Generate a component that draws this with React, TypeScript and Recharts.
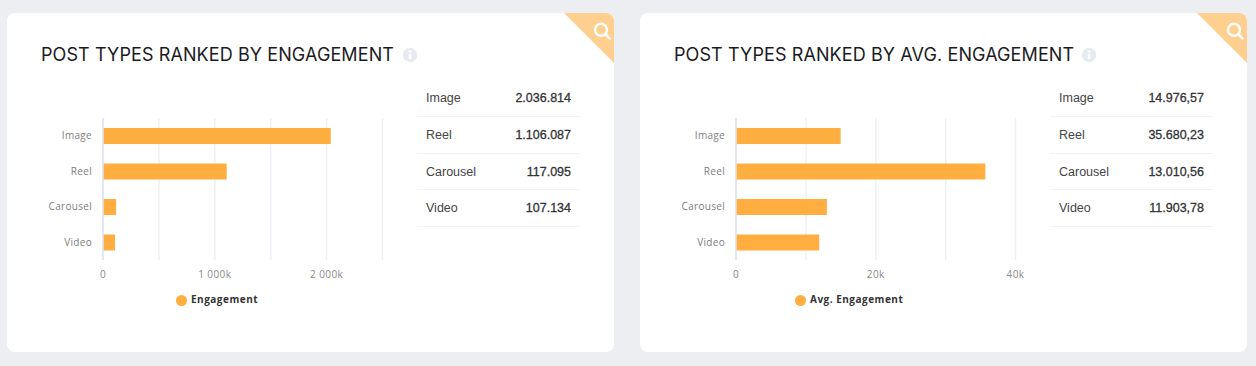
import React from "react";
import { BarChart, Bar, XAxis, YAxis, CartesianGrid, Legend } from "recharts";

const categories = ["Image", "Reel", "Carousel", "Video"];
const engagementValues = [2036814, 1106087, 117095, 107134];
const avgEngagementValues = [14976.57, 35680.23, 13010.56, 11903.78];
const engagementLabels = ["2.036.814", "1.106.087", "117.095", "107.134"];
const avgEngagementLabels = ["14.976,57", "35.680,23", "13.010,56", "11.903,78"];
const engagementTicks = [0, 500000, 1000000, 1500000, 2000000, 2500000];
const avgEngagementTicks = [0, 10000, 20000, 30000, 40000];

const ORANGE = "#ffae3f";
const TITLE_SPACING = 0.1;

function formatEngagement(v: number) {
  if (v === 0) return "0";
  if (v % 1000000 !== 0) return "";
  return `${v / 1000000} 000k`;
}
function formatAvg(v: number) {
  if (v === 0) return "0";
  if (v % 20000 !== 0) return "";
  return `${v / 1000}k`;
}

function Card(props: {
  left: number;
  title: string;
  infoX: number;
  seriesName: string;
  values: number[];
  labels: string[];
  ticks: number[];
  max: number;
  format: (v: number) => string;
  legendLeft: number;
}) {
  const { left, title, infoX, seriesName, values, labels, ticks, max, format, legendLeft } = props;
  const data = categories.map((c, i) => ({ name: c, value: values[i] }));
  return (
    <div style={{ position: "absolute", left, top: 13, width: 607, height: 339, background: "#fff", borderRadius: 8, overflow: "hidden" }}>
      <svg width={50} height={50} style={{ position: "absolute", right: 0, top: 0 }}>
        <polygon points="0,0 50,0 50,50" fill="#ffcf8f" />
        <circle cx={37} cy={16.8} r={6} fill="none" stroke="#fff" strokeWidth={2.4} />
        <line x1={41.5} y1={21.3} x2={45.5} y2={25.3} stroke="#fff" strokeWidth={2.6} strokeLinecap="round" />
      </svg>
      <div style={{ position: "absolute", left: 34, top: 30, fontFamily: "Inter, sans-serif", fontSize: 18, lineHeight: "24px", color: "#1b1b1f", whiteSpace: "nowrap", letterSpacing: TITLE_SPACING }}>
        {title}
      </div>
      <svg width={16} height={16} style={{ position: "absolute", left: infoX - 8, top: 34 }}>
        <circle cx={8} cy={8} r={7.2} fill="#e7eaf0" />
        <rect x={6.8} y={7} width={2.6} height={5} fill="#fff" />
        <circle cx={8.1} cy={4.6} r={1.4} fill="#fff" />
      </svg>
      <div style={{ position: "absolute", left: 0, top: 87 }}>
        <BarChart width={400} height={230} data={data} layout="vertical" margin={{ top: 18, right: 24.5, bottom: 0, left: 0 }} barSize={16}>
          <CartesianGrid horizontal={false} stroke="#eef0f5" strokeWidth={1.5} />
          <XAxis type="number" domain={[0, max]} ticks={ticks} tickFormatter={format} interval={0} axisLine={false} tickLine={false} height={26} tick={{ fill: "#8a8a8a", fontSize: 10, fontFamily: "'Open Sans', sans-serif", letterSpacing: 0.4 }} tickMargin={4.5} />
          <YAxis type="category" dataKey="name" width={96} axisLine={{ stroke: "#dfe3ef", strokeWidth: 1.5 }} tickLine={false} tickMargin={5} tick={{ fill: "#7d7d7d", fontSize: 10, fontFamily: "'Open Sans', sans-serif", letterSpacing: 0.3 }} />
          <Legend verticalAlign="bottom" align="left" iconType="circle" iconSize={11} height={44} wrapperStyle={{ left: legendLeft, top: 192, fontFamily: "'Open Sans', sans-serif", fontSize: 10, fontWeight: 700, letterSpacing: 0.5, lineHeight: "14px", width: "auto" }} formatter={(v: string) => <span style={{ color: "#333" }}>{v}</span>} />
          <Bar dataKey="value" name={seriesName} fill={ORANGE} isAnimationActive={false} />
        </BarChart>
      </div>
      {categories.map((c, i) => (
        <div key={c} style={{ position: "absolute", left: 410, top: 67 + i * 36.8, width: 163, height: 36.8, boxSizing: "border-box", borderBottom: "1px solid #f2f3f6", fontFamily: "'Liberation Sans', Arial, sans-serif", fontSize: 12.5, color: "#444" }}>
          <span style={{ position: "absolute", left: 9, top: 11 }}>{c}</span>
          <span style={{ position: "absolute", right: 9, top: 11, fontWeight: 400, color: "#333", WebkitTextStroke: "0.3px #333" }}>{labels[i]}</span>
        </div>
      ))}
    </div>
  );
}

export default function App() {
  return (
    <div style={{ position: "absolute", left: 0, top: 0, width: 1256, height: 366, background: "#eceef2", overflow: "hidden" }}>
      <Card left={7} title="POST TYPES RANKED BY ENGAGEMENT" infoX={403} seriesName="Engagement" values={engagementValues} labels={engagementLabels} ticks={engagementTicks} max={2500000} format={formatEngagement} legendLeft={169} />
      <Card left={640} title="POST TYPES RANKED BY AVG. ENGAGEMENT" infoX={449} seriesName="Avg. Engagement" values={avgEngagementValues} labels={avgEngagementLabels} ticks={avgEngagementTicks} max={40000} format={formatAvg} legendLeft={155} />
    </div>
  );
}
